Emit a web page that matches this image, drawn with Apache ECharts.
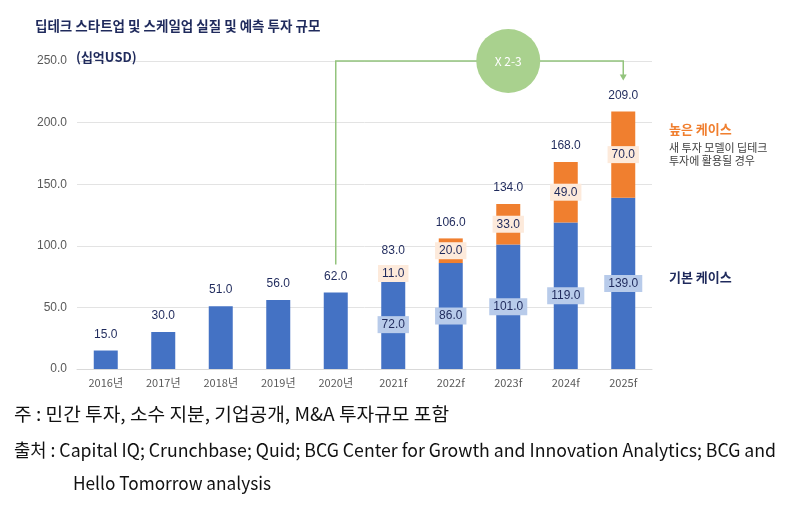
<!DOCTYPE html>
<html><head><meta charset="utf-8">
<script src="https://cdn.jsdelivr.net/npm/echarts@6/dist/echarts.min.js"></script>
<style>html,body{margin:0;padding:0;background:#fff}#c{width:796px;height:505px}</style>
</head><body><div id="c"></div>
<script>
const categories = ['2016년','2017년','2018년','2019년','2020년','2021f','2022f','2023f','2024f','2025f'];
const baseCase = [15,30,51,56,62,72,86,101,119,139];
const highCase = [null,null,null,null,null,11,20,33,49,70];
const totals = [15,30,51,56,62,83,106,134,168,209];
const yTicks = [0,50,100,150,200,250];

const KR = '"Noto Sans CJK KR", "Noto Sans", sans-serif';
const NUM = '"Liberation Sans", Arial, sans-serif';
const NAVY = '#1F2A5C';
const chart = echarts.init(document.getElementById('c'), null, {renderer:'canvas'});
const forecastStart = 5;

const option = {
  animation:false,
  grid:{left:77, right:144, top:61, bottom:136},
  xAxis:{type:'category', data:categories,
    axisLine:{show:true, lineStyle:{color:'#D9D9D9'}}, axisTick:{show:false},
    axisLabel:{color:'#595959', fontSize:11, fontFamily:KR, margin:8}},
  yAxis:{type:'value', min:yTicks[0], max:yTicks[yTicks.length-1], interval:50,
    axisLine:{show:false}, axisTick:{show:false},
    splitLine:{lineStyle:{color:'#E3E3E3'}},
    axisLabel:{color:'#595959', fontSize:12, fontFamily:NUM, margin:10,
      formatter:v=>v.toFixed(1)}},
  series:[
    {type:'bar', stack:'a', barWidth:24, itemStyle:{color:'#4472C4'},
     data: baseCase.map((v,i)=>({value:v, label: i>=forecastStart ? {
        show:true, position:'inside', color:NAVY, fontSize:12, fontFamily:NUM,
        backgroundColor:'#B8CBEA', padding:[3,4,2,4], formatter:p=>p.value.toFixed(1)} : {show:false}}))},
    {type:'bar', stack:'a', barWidth:24, itemStyle:{color:'#F07F2F'},
     label:{show:true, position:'inside', color:NAVY, fontSize:12, fontFamily:NUM,
        backgroundColor:'#FDEADB', padding:[3,4,2,4], formatter:p=>p.value==null?'':p.value.toFixed(1)},
     data: highCase},
    {type:'bar', stack:'a', barWidth:24, itemStyle:{color:'transparent'},
     label:{show:true, position:'top', distance:10, color:NAVY, fontSize:12, fontFamily:NUM,
        formatter:p=>totals[p.dataIndex].toFixed(1)},
     data: totals.map(()=>0)}
  ]
};
chart.setOption(option);

const ctx = document.createElement('canvas').getContext('2d');
function fitScale(text, font, target){ ctx.font = font; return target / ctx.measureText(text).width; }

const px = (i,v)=>chart.convertToPixel({seriesIndex:0},[i,v]);
const pS = px(4, totals[4]); const pTop = px(4, 250); const pE = px(9, 250); const pEnd = px(9, totals[9]);
const circ = px(6.5, 250);
const GREEN = '#93C47D';
const FN = '18px ' + KR;
const note1 = '주 : 민간 투자, 소수 지분, 기업공개, M&A 투자규모 포함';
const note2 = '출처 : Capital IQ; Crunchbase; Quid; BCG Center for Growth and Innovation Analytics; BCG and';
const note3 = 'Hello Tomorrow analysis';
const graphic = [
  {type:'text', left:35, top:19, style:{text:'딥테크 스타트업 및 스케일업 실질 및 예측 투자 규모', font:'bold 13.5px '+KR, fill:NAVY}},
  {type:'text', left:76, top:51, style:{text:'(십억USD)', font:'bold 13px '+KR, fill:NAVY}},
  {type:'polyline', shape:{points:[[pS[0], pS[1]-28],[pTop[0], pTop[1]],[pE[0], pE[1]],[pE[0], pEnd[1]-34]]}, style:{stroke:GREEN, lineWidth:1.5, fill:null}, z:10},
  {type:'polygon', shape:{points:[[pE[0]-3.5, pEnd[1]-37],[pE[0]+3.5, pEnd[1]-37],[pE[0], pEnd[1]-31]]}, style:{fill:GREEN}, z:10},
  {type:'circle', shape:{cx:circ[0], cy:circ[1], r:32}, style:{fill:'#A9D18E'}, z:11},
  {type:'text', x:circ[0], y:circ[1], style:{text:'X 2-3', font:'12px '+KR, fill:'#fff', align:'center', verticalAlign:'middle'}, z:12},
  {type:'text', left:669, top:123, style:{text:'높은 케이스', font:'bold 13px '+KR, fill:'#F07F2F'}},
  {type:'text', left:669, top:141, style:{text:'새 투자 모델이 딥테크\n투자에 활용될 경우', font:'11px '+KR, fill:'#404040', lineHeight:13}},
  {type:'text', left:669, top:271, style:{text:'기본 케이스', font:'bold 13px '+KR, fill:NAVY}},
  {type:'text', x:14, y:414, scaleX:fitScale(note1, FN, 435), style:{text:note1, font:FN, fill:'#111', verticalAlign:'middle'}},
  {type:'text', x:14, y:450, scaleX:fitScale(note2, FN, 762), style:{text:note2, font:FN, fill:'#111', verticalAlign:'middle'}},
  {type:'text', x:73, y:483, scaleX:fitScale(note3, FN, 198), style:{text:note3, font:FN, fill:'#111', verticalAlign:'middle'}}
];
chart.setOption({graphic});
</script></body></html>
